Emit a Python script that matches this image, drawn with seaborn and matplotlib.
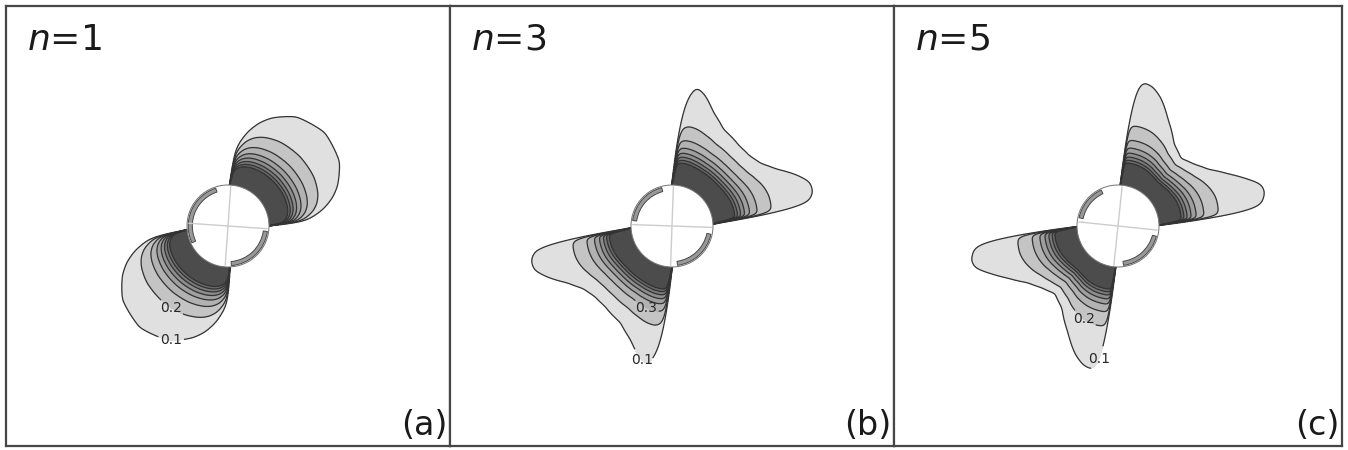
import numpy as np
import matplotlib
matplotlib.use("Agg")
import matplotlib.pyplot as plt
from matplotlib.patches import Circle, Wedge
import seaborn as sns

# ---- data -----------------------------------------------------------------
# stress exponent shown in each panel, and the panel tags
exponents = [1, 3, 5]
panel_tags = ["(a)", "(b)", "(c)"]

# Reach of the outermost (0.1) contour, in inclusion radii, against polar
# angle in degrees, for the lobe in the first quadrant.  The lobe in the third
# quadrant is the same lobe turned through 180 degrees plus `lower_lobe_turn`.
reach_angle_a = [-3, 1, 3, 5, 10, 15, 20, 30, 44, 58, 68, 73, 78, 83, 85, 87, 91]
reach_value_a = [0.8, 1.0, 1.75, 1.98, 2.35, 2.63, 2.84, 3.14, 3.28, 3.14, 2.84,
                 2.63, 2.35, 1.98, 1.75, 1.0, 0.8]

reach_angle_b = [0, 3, 4.5, 6.6, 7.6, 9.3, 13.5, 17.7, 22, 28.5, 35, 42, 50, 62,
                 70, 76, 80, 82.5, 84.5, 86.4, 88, 89, 90, 93]
reach_value_b = [0.8, 1.0, 1.25, 1.91, 2.58, 3.34, 3.54, 3.53, 3.3, 2.9, 2.65,
                 2.55, 2.55, 2.67, 2.95, 3.3, 3.44, 3.2, 2.8, 1.95, 1.4, 1.15,
                 1.0, 0.8]

reach_angle_c = [-1, 1.5, 2.3, 4, 5.5, 5.9, 8, 11.2, 13.5, 16.4, 20, 25.3, 32,
                 39, 47, 55.7, 64.7, 71.6, 76, 80, 82, 83.6, 84.8, 86, 87.5]
reach_value_c = [0.8, 1.0, 1.22, 1.75, 2.28, 3.0, 3.5, 3.63, 3.68, 3.63, 3.35,
                 2.97, 2.6, 2.39, 2.25, 2.42, 2.86, 3.3, 3.5, 3.56, 3.4, 2.85,
                 1.62, 1.03, 0.8]

reach_angles = [reach_angle_a, reach_angle_b, reach_angle_c]
reach_values = [reach_value_a, reach_value_b, reach_value_c]
lower_lobe_turn = [5, 0, 0]

# contour levels; each inner contour follows the outer one scaled by `gain`
# but is held within `cap` inclusion radii of the inclusion surface
levels = [0.1, 0.2, 0.3, 0.4, 0.5, 0.6, 0.7, 0.8]
contour_gain = [1.0, 0.88, 0.76, 0.66, 0.58, 0.51, 0.45, 0.40]
contour_cap = [np.inf, 1.55, 1.15, 0.95, 0.82, 0.72, 0.64, 0.57]

# labelled contours and where their labels sit (inclusion radii)
label_levels = [[0.1, 0.2], [0.1, 0.3], [0.1, 0.2]]
label_spots = [[(-1.39, -2.76), (-1.37, -1.98)],
               [(-0.66, -3.20), (-0.73, -2.20)],
               [(-0.56, -3.20), (-0.76, -2.17)]]

# rotation of the marker cross inside the inclusion (deg)
cross_tilt = [-4, -2, -6]
# arcs of the grey rim on the inclusion (deg)
rim_arcs = [[(108, 205), (275, 352)],
            [(105, 172), (278, 348)],
            [(115, 168), (278, 345)]]

# ---- style ----------------------------------------------------------------
sns.set_theme(style="white")
plt.rcParams["font.family"] = ["DejaVu Sans"]
plt.rcParams["mathtext.fontset"] = "dejavusans"

fills = (["#e0e0e0"]
         + sns.blend_palette(["#c4c4c4", "#686868"], n_colors=len(levels) - 2)
         + ["#4c4c4c"])
line_colour = "0.2"

half_w, half_h = 222 / 41, 220 / 41
gx = np.linspace(-half_w * 1.01, half_w * 1.01, 1200)
gy = np.linspace(-half_h, half_h, 1200)
X, Y = np.meshgrid(gx, gy)


def soft_min(a, cap, k=4.0):
    if np.isinf(cap):
        return a
    with np.errstate(all="ignore"):
        s = (np.power(np.maximum(a, 1e-12), -k) + cap ** -k) ** (-1.0 / k)
    return np.where(a > 1e-9, s, 0.0)


def lobe_field(ang, val, turn):
    fine = np.arange(0.0, 180.0, 0.1)
    table = np.interp(fine, ang, val, period=180)
    kern = np.exp(-0.5 * (np.arange(-40, 41) / 12.0) ** 2)
    kern /= kern.sum()
    padded = np.concatenate([table[-40:], table, table[:40]])
    table = np.convolve(padded, kern, mode="valid")

    r = np.hypot(X, Y)
    th = np.degrees(np.arctan2(Y, X)) % 360.0
    th = np.where(th < 180.0, th, th - 180.0 - turn) % 180.0
    ext = np.maximum(np.interp(th, fine, table, period=180) - 1.0, 0.0)

    rc = [1.0 + soft_min(g * ext, h) for g, h in zip(contour_gain, contour_cap)]
    f = 0.1 * np.exp(-(r - rc[0]))                     # beyond the outer contour
    for k in range(len(levels) - 1):
        r_out, r_in = rc[k], rc[k + 1]
        band = (r < r_out) & (r >= r_in)
        frac = (r - r_in) / np.maximum(r_out - r_in, 1e-9)
        f = np.where(band, levels[k + 1] + (levels[k] - levels[k + 1]) * frac, f)
    f = np.where(r < rc[-1], levels[-1] + (rc[-1] - r), f)
    f = np.where(ext > 1e-6, f, 0.0)
    return np.ma.masked_where(r < 1.0, f)


fig = plt.figure(figsize=(13.48, 4.5), dpi=100)
fig.patch.set_facecolor("white")
lefts = [6, 450, 894]
widths = [444, 444, 448]

for i in range(3):
    ax = fig.add_axes([lefts[i] / 1348, 4 / 450, widths[i] / 1348, 440 / 450])
    ax.set_facecolor("white")
    F = lobe_field(reach_angles[i], reach_values[i], lower_lobe_turn[i])

    ax.contourf(X, Y, F, levels=levels + [6.0], colors=fills)
    plain = [lv for lv in levels if lv not in label_levels[i]]
    ax.contour(X, Y, F, levels=plain, colors=line_colour, linewidths=0.9)
    cs = ax.contour(X, Y, F, levels=label_levels[i], colors=line_colour,
                    linewidths=0.9)
    texts = ax.clabel(cs, manual=label_spots[i], fmt="%.1f", inline=True,
                      inline_spacing=2, fontsize=10, colors="0.15")
    for t in texts:
        t.set_rotation(0)

    # inclusion with its rim and marker cross
    ax.add_patch(Circle((0, 0), 1.0, facecolor="white", edgecolor="0.45",
                        linewidth=0.7, zorder=4))
    for a0, a1 in rim_arcs[i]:
        ax.add_patch(Wedge((0, 0), 0.97, a0, a1, width=0.1, facecolor="0.6",
                           edgecolor="0.28", linewidth=0.7, zorder=5))
    tilt = np.radians(cross_tilt[i])
    for base in (0.0, np.pi / 2):
        ux, uy = np.cos(base + tilt), np.sin(base + tilt)
        ax.plot([-0.96 * ux, 0.96 * ux], [-0.96 * uy, 0.96 * uy],
                color="0.8", linewidth=1.0, zorder=6)

    ax.set_xlim(-half_w * widths[i] / 444, half_w * widths[i] / 444)
    ax.set_ylim(-half_h, half_h)
    ax.set_xticks([])
    ax.set_yticks([])
    for sp in ax.spines.values():
        sp.set_visible(True)
        sp.set_color("0.28")
        sp.set_linewidth(1.6)

    ax.text(0.047, 0.962, r"$\mathit{n}$=" + str(exponents[i]),
            transform=ax.transAxes, fontsize=26, va="top", ha="left",
            color="0.1")
    ax.text(0.995, 0.008, panel_tags[i], transform=ax.transAxes, fontsize=24,
            va="bottom", ha="right", color="0.1")

fig.savefig("out.png", dpi=100, facecolor="white")
